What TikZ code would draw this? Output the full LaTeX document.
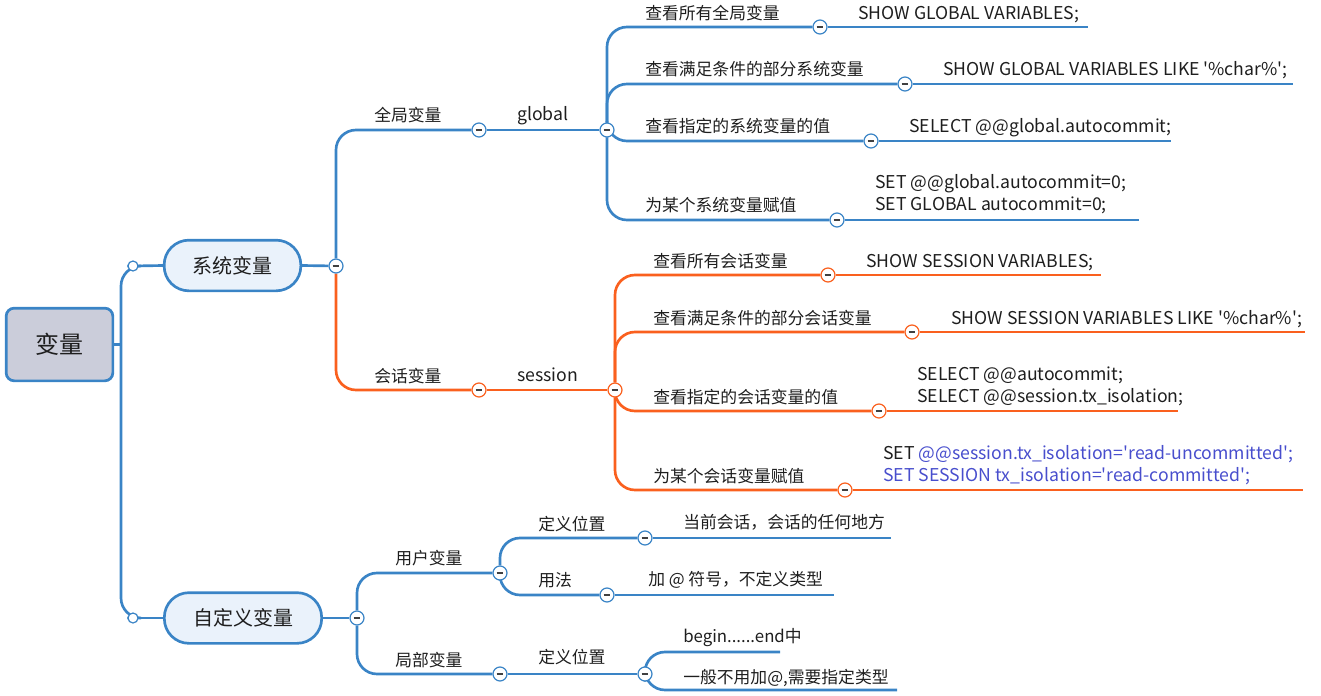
\documentclass[tikz,border=0pt]{standalone}
\usepackage{fontspec}
\setmainfont{Noto Sans CJK SC}
\usetikzlibrary{positioning,calc,backgrounds}
\definecolor{mmblue}{RGB}{58,132,198}
\definecolor{mmorange}{RGB}{250,96,30}
\definecolor{mmroot}{RGB}{203,205,218}
\definecolor{mmpill}{RGB}{234,242,251}
\definecolor{mmsql}{RGB}{72,78,205}
\definecolor{mmtext}{RGB}{30,30,30}
\tikzset{
  rootbox/.style={draw=mmblue, line width=2pt, rounded corners=6pt, fill=mmroot, minimum width=80pt, minimum height=54.5pt, font=\fontsize{18pt}{20pt}\selectfont, text=mmtext},
  pill/.style={draw=mmblue, line width=2pt, rounded corners=18.5pt, fill=mmpill, minimum height=38pt, font=\fontsize{15pt}{18pt}\selectfont, text=mmtext},
  lbl/.style={anchor=base west, inner sep=0pt, font=\fontsize{12.6pt}{15pt}\selectfont, text=mmtext},
  sql/.style={lbl, font=\fontsize{13.25pt}{15pt}\selectfont},
  tog/.style={circle, draw=#1, fill=white, line width=0.9pt, minimum size=10.5pt, inner sep=0pt,
    path picture={\draw[black!75, line width=1.2pt] ([xshift=-2.6pt]path picture bounding box.center) -- ([xshift=2.6pt]path picture bounding box.center);}},
  knob/.style={circle, draw=mmblue, fill=white, line width=0.9pt, minimum size=7.5pt, inner sep=0pt},
  bline/.style={draw=mmblue, line width=2pt, rounded corners=15pt},
  oline/.style={draw=mmorange, line width=2pt, rounded corners=15pt},
  bleaf/.style={draw=mmblue, line width=1.7pt},
  oleaf/.style={draw=mmorange, line width=1.7pt}
}

\begin{document}
\begin{tikzpicture}[x=0.75pt, y=-0.75pt]
  \useasboundingbox (0,0) rectangle (1321,696);
  % main nodes
  \node[rootbox] (root) at (59.5,344.5) {变量};
  \node[pill, minimum width=102.5pt] (sys) at (232.5,265.5) {系统变量};
  \node[pill, minimum width=118pt] (cus) at (243,618) {自定义变量};
  \node[knob] (dot1) at (133,266) {};
  \node[knob] (dot2) at (133,618) {};
  \coordinate (rj) at (121,344.5);
  \scoped[on background layer] \draw[bline] (dot1) -| (rj) |- (dot2);
  \scoped[on background layer] \draw[bline] (root.east) -- (rj);
  \scoped[on background layer] \draw[bline] (dot1) -- (sys.west);
  \scoped[on background layer] \draw[bline] (dot2) -- (cus.west);

  % system variables
  \node[tog=mmblue] (tg) at (336,266) {};
  \node[tog=mmblue] (gl) at (479,130) {};
  \node[tog=mmblue] (glob) at (607,130) {};
  \begin{scope}[on background layer]
    \draw[bline] (sys.east) -- (tg);
    \draw[bline] (tg) |- (gl);
    \draw[bline] (gl) -- (glob);
  \end{scope}
  \node[lbl] (t_gl) at (374,121) {全局变量};
  \node[sql] (t_glob) at (517,120) {global};

  \node[tog=mmblue] (l1) at (820,27) {};
  \node[tog=mmblue] (l2) at (905,84) {};
  \node[tog=mmblue] (l3) at (871,141) {};
  \node[tog=mmblue] (l4) at (837,220) {};
  \coordinate (e1) at (1088,27);
  \coordinate (e2) at (1293,84);
  \coordinate (e3) at (1171,141);
  \coordinate (e4) at (1139,220);
  \begin{scope}[on background layer]
    \foreach \i in {1,...,4} {
      \draw[bline] (glob) |- (l\i);
      \draw[bleaf] (l\i) -- (e\i);
    }
  \end{scope}
  \node[lbl] (t_l1) at (645,19) {查看所有全局变量};
  \node[lbl] (t_l2) at (645,75) {查看满足条件的部分系统变量};
  \node[lbl] (t_l3) at (645,132) {查看指定的系统变量的值};
  \node[lbl] (t_l4) at (645,211) {为某个系统变量赋值};
  \node[sql] (s_l1) at (858,19) {SHOW GLOBAL VARIABLES;};
  \node[sql] (s_l2) at (943,75) {SHOW GLOBAL VARIABLES LIKE \textquotesingle\%char\%\textquotesingle;};
  \node[sql] (s_l3) at (909,132) {SELECT @@global.autocommit;};
  \node[sql] (s_l4a) at (875,188) {SET @@global.autocommit=0;};
  \node[sql] (s_l4b) at (875,210) {SET GLOBAL autocommit=0;};

  % session variables
  \node[tog=mmorange] (se) at (479,390) {};
  \node[tog=mmorange] (sess) at (615,390) {};
  \begin{scope}[on background layer]
    \draw[oline] (tg) |- (se);
    \draw[oline] (se) -- (sess);
  \end{scope}
  \node[lbl] (t_se) at (374,382) {会话变量};
  \node[sql] (t_sess) at (517,381) {session};

  \node[tog=mmorange] (m1) at (828,275) {};
  \node[tog=mmorange] (m2) at (912,332) {};
  \node[tog=mmorange] (m3) at (879,411) {};
  \node[tog=mmorange] (m4) at (845,490) {};
  \coordinate (f1) at (1101,275);
  \coordinate (f2) at (1305,332);
  \coordinate (f3) at (1178,411);
  \coordinate (f4) at (1303,490);
  \begin{scope}[on background layer]
    \foreach \i in {1,...,4} {
      \draw[oline] (sess) |- (m\i);
      \draw[oleaf] (m\i) -- (f\i);
    }
  \end{scope}
  \node[lbl] (t_m1) at (653,267) {查看所有会话变量};
  \node[lbl] (t_m2) at (653,324) {查看满足条件的部分会话变量};
  \node[lbl] (t_m3) at (653,403) {查看指定的会话变量的值};
  \node[lbl] (t_m4) at (653,482) {为某个会话变量赋值};
  \node[sql] (s_m1) at (866,267) {SHOW SESSION VARIABLES;};
  \node[sql] (s_m2) at (951,324) {SHOW SESSION VARIABLES LIKE \textquotesingle\%char\%\textquotesingle;};
  \node[sql] (s_m3a) at (917,380) {SELECT @@autocommit;};
  \node[sql] (s_m3b) at (917,402) {SELECT @@session.tx\_isolation;};
  \node[sql] (s_m4a) at (883,459) {SET \textcolor{mmsql}{@@session.tx\_isolation=\textquotesingle read-uncommitted\textquotesingle;}};
  \node[sql, text=mmsql] (s_m4b) at (883,481) {SET SESSION tx\_isolation=\textquotesingle read-committed\textquotesingle;};

  % custom variables
  \node[tog=mmblue] (ct) at (357,618) {};
  \node[tog=mmblue] (us) at (500,573) {};
  \node[tog=mmblue] (lo) at (500,674) {};
  \node[lbl] (t_us) at (395,564) {用户变量};
  \node[lbl] (t_lo) at (395,666) {局部变量};

  \node[tog=mmblue] (u1) at (645,538) {};
  \node[tog=mmblue] (u2) at (607,595) {};
  \node[tog=mmblue] (ld) at (645,674) {};
  \coordinate (g1) at (891,538);
  \coordinate (g2) at (834,595);
  \coordinate (k1) at (780,652);
  \coordinate (k2) at (897,690);
  \begin{scope}[on background layer]
    \draw[bline] (cus.east) -- (ct);
    \draw[bline] (ct) |- (us);
    \draw[bline] (ct) |- (lo);
    \draw[bline] (us) |- (u1);
    \draw[bline] (us) |- (u2);
    \draw[bline] (lo) -- (ld);
    \draw[bleaf] (u1) -- (g1);
    \draw[bleaf] (u2) -- (g2);
    \draw[bline] (ld) |- (k1);
    \draw[bline] (ld) |- (k2);
  \end{scope}
  \node[lbl] (t_u1) at (538,530) {定义位置};
  \node[lbl] (t_u2) at (538,586) {用法};
  \node[lbl] (t_ld) at (538,663) {定义位置};
  \node[lbl] (s_u1) at (683,528) {当前会话，会话的任何地方};
  \node[lbl] (s_u2) at (648,585) {加 @ 符号，不定义类型};
  \node[lbl] (s_k1) at (683,642) {begin......end中};
  \node[lbl] (s_k2) at (683,683) {一般不用加@,需要指定类型};
\end{tikzpicture}
\end{document}
